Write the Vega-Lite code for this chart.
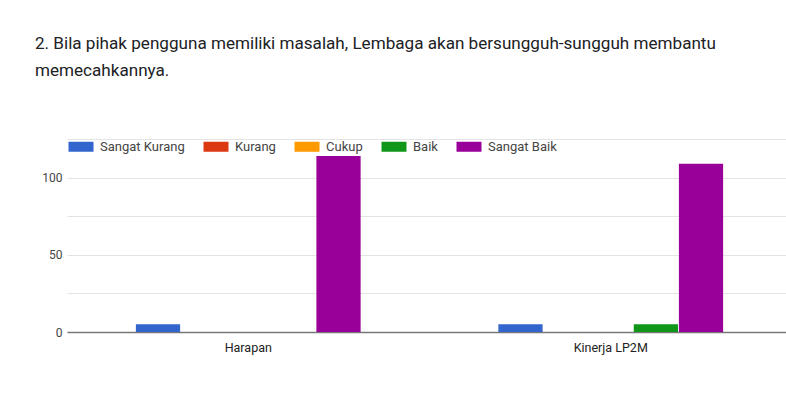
{
  "$schema": "https://vega.github.io/schema/vega-lite/v6.json",
  "autosize": "none",
  "width": 725,
  "height": 193,
  "padding": {"left": 67, "top": 139, "right": 0, "bottom": 85},
  "background": "white",
  "title": {
    "text": ["2. Bila pihak pengguna memiliki masalah, Lembaga akan bersungguh-sungguh membantu", "memecahkannya."],
    "anchor": "start",
    "frame": "group",
    "dx": -32,
    "offset": 60,
    "font": "Roboto",
    "fontSize": 17.1,
    "fontWeight": "normal",
    "color": "#202124",
    "lineHeight": 27
  },
  "data": {
    "values": [
      {"grup": "Harapan", "kategori": "Sangat Kurang", "jumlah": 5},
      {"grup": "Harapan", "kategori": "Kurang", "jumlah": 0},
      {"grup": "Harapan", "kategori": "Cukup", "jumlah": 0},
      {"grup": "Harapan", "kategori": "Baik", "jumlah": 0},
      {"grup": "Harapan", "kategori": "Sangat Baik", "jumlah": 114},
      {"grup": "Kinerja LP2M", "kategori": "Sangat Kurang", "jumlah": 5},
      {"grup": "Kinerja LP2M", "kategori": "Kurang", "jumlah": 0},
      {"grup": "Kinerja LP2M", "kategori": "Cukup", "jumlah": 0},
      {"grup": "Kinerja LP2M", "kategori": "Baik", "jumlah": 5},
      {"grup": "Kinerja LP2M", "kategori": "Sangat Baik", "jumlah": 109}
    ]
  },
  "mark": {"type": "bar"},
  "encoding": {
    "x": {
      "field": "grup",
      "type": "nominal",
      "sort": null,
      "scale": {"paddingInner": 0.38, "paddingOuter": 0.19},
      "axis": {
        "title": null,
        "labelAngle": 0,
        "ticks": false,
        "domainColor": "#777777",
        "domainWidth": 1.5,
        "labelFont": "Roboto",
        "labelFontSize": 12.5,
        "labelColor": "#222222",
        "labelPadding": 9
      }
    },
    "xOffset": {
      "field": "kategori",
      "type": "nominal",
      "sort": ["Sangat Kurang", "Kurang", "Cukup", "Baik", "Sangat Baik"],
      "scale": {"paddingInner": 0.02}
    },
    "y": {
      "field": "jumlah",
      "type": "quantitative",
      "scale": {"domain": [0, 125], "nice": false},
      "axis": {
        "title": null,
        "values": [0, 25, 50, 75, 100, 125],
        "labelExpr": "datum.value % 50 === 0 ? datum.label : ''",
        "ticks": false,
        "domain": false,
        "gridColor": "#e4e4e4",
        "labelFont": "Roboto",
        "labelFontSize": 12,
        "labelColor": "#444444",
        "labelPadding": 5
      }
    },
    "color": {
      "field": "kategori",
      "type": "nominal",
      "sort": ["Sangat Kurang", "Kurang", "Cukup", "Baik", "Sangat Baik"],
      "scale": {
        "domain": ["Sangat Kurang", "Kurang", "Cukup", "Baik", "Sangat Baik"],
        "range": ["#3366cc", "#dc3912", "#ff9900", "#109618", "#990099"]
      },
      "legend": {
        "title": null,
        "orient": "none",
        "legendX": 0,
        "legendY": 1,
        "direction": "horizontal",
        "symbolType": "M-1,-1H4V1H-1Z",
        "symbolSize": 100,
        "symbolStrokeWidth": 0,
        "symbolOpacity": 1,
        "labelFont": "Roboto",
        "labelFontSize": 13,
        "labelColor": "#444444",
        "labelOffset": 20,
        "columnPadding": 17
      }
    }
  },
  "config": {
    "view": {"stroke": null}
  }
}
